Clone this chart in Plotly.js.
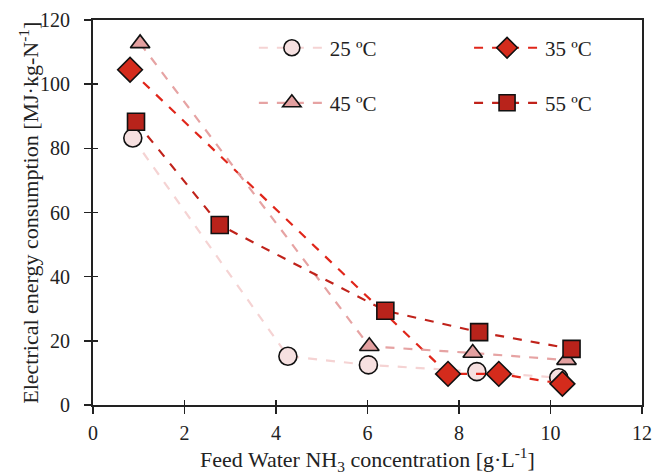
<!DOCTYPE html>
<html>
<head>
<meta charset="utf-8">
<script src="https://cdn.plot.ly/plotly-3.0.1.min.js"></script>
<style>html,body{margin:0;padding:0;background:#fff;}#chart{width:654px;height:475px;}</style>
</head>
<body>
<div id="chart"></div>
<script>
// Data
const seriesNames = ["25 ºC", "35 ºC", "45 ºC", "55 ºC"];
const x25 = [0.87, 4.26, 6.02, 8.39, 10.18];
const y25 = [83.2, 15.2, 12.5, 10.4, 8.5];
const x35 = [0.81, 7.76, 8.87, 10.26];
const y35 = [104.5, 9.7, 9.7, 6.6];
const x45 = [1.03, 6.04, 8.3, 10.35];
const y45 = [112.7, 18.3, 16.2, 14.0];
const x55 = [0.94, 2.77, 6.39, 8.44, 10.46];
const y55 = [88.3, 56.1, 29.4, 22.7, 17.5];
const xTicks = [0, 2, 4, 6, 8, 10, 12];
const yTicks = [0, 20, 40, 60, 80, 100, 120];
const xTitle = "Feed Water NH<sub>3</sub> concentration [g·L<sup>-1</sup>]";
const yTitle = "Electrical energy consumption [MJ·kg-N<sup>-1</sup>]";

const font = "Liberation Serif, Times New Roman, serif";
function tr(x, y, name, sym, size, fill, lineCol, legend) {
  return {
    x: x, y: y, name: name, type: "scatter", mode: "lines+markers",
    line: {color: lineCol, width: 2.2, dash: "dash"},
    marker: {symbol: sym, size: size, color: fill, line: {color: "#111", width: 1.6}},
    legend: legend
  };
}
const data = [
  tr(x25, y25, seriesNames[0], "circle", 18, "#f6e0e0", "#f5d3d3", "legend"),
  tr(x35, y35, seriesNames[1], "diamond", 19, "#d42b1c", "#e0261a", "legend2"),
  tr(x45, y45, seriesNames[2], "triangle-up", 17, "#e3a0a0", "#e6a3a3", "legend3"),
  tr(x55, y55, seriesNames[3], "square", 17, "#b8231b", "#c0221a", "legend4"),
  {x: [0], y: [0], xaxis: "x2", yaxis: "y2", mode: "markers", marker: {opacity: 0}, showlegend: false, hoverinfo: "skip"}
];
function leg(x, y) {
  return {x: x, y: y, xanchor: "left", yanchor: "middle", bgcolor: "rgba(0,0,0,0)",
    font: {family: font, size: 21, color: "#222"}, itemwidth: 66};
}
const layout = {
  width: 654, height: 475,
  margin: {l: 93, r: 12, t: 20, b: 70},
  paper_bgcolor: "#fff", plot_bgcolor: "#fff",
  showlegend: true,
  font: {family: font, color: "#222"},
  xaxis: {
    range: [0, 12], tickvals: xTicks, ticks: "outside", ticklen: 7, tickwidth: 1.5, tickcolor: "#222",
    ticklabelstandoff: 2,
    showline: true, linecolor: "#222", linewidth: 2, mirror: true, showgrid: false, zeroline: false,
    tickfont: {family: font, size: 20, color: "#222"},
    title: {text: xTitle, font: {family: font, size: 22, color: "#222"}, standoff: 13}
  },
  yaxis: {
    range: [0, 120], tickvals: yTicks, ticks: "outside", ticklen: 7, tickwidth: 1.5, tickcolor: "#222",
    ticklabelstandoff: 10,
    showline: true, linecolor: "#222", linewidth: 2, mirror: true, showgrid: false, zeroline: false,
    tickfont: {family: font, size: 20, color: "#222"}
  },
  xaxis2: {overlaying: "x", anchor: "y2", range: [0, 12], tickvals: xTicks, ticks: "inside", ticklen: 5, tickwidth: 1.5, tickcolor: "#222",
    showticklabels: false, showline: false, showgrid: false, zeroline: false},
  yaxis2: {overlaying: "y", anchor: "x2", range: [0, 120], tickvals: yTicks, ticks: "inside", ticklen: 5, tickwidth: 1.5, tickcolor: "#222",
    showticklabels: false, showline: false, showgrid: false, zeroline: false},
  annotations: [{
    text: yTitle, xref: "paper", yref: "paper", x: -0.118, y: 0.5, xanchor: "center", yanchor: "middle",
    textangle: -90, showarrow: false, font: {family: font, size: 22, color: "#222"}
  }],
  legend: leg(0.293, 0.927),
  legend2: leg(0.685, 0.927),
  legend3: leg(0.293, 0.784),
  legend4: leg(0.685, 0.784)
};
Plotly.newPlot("chart", data, layout, {displayModeBar: false, staticPlot: true});
</script>
</body>
</html>
